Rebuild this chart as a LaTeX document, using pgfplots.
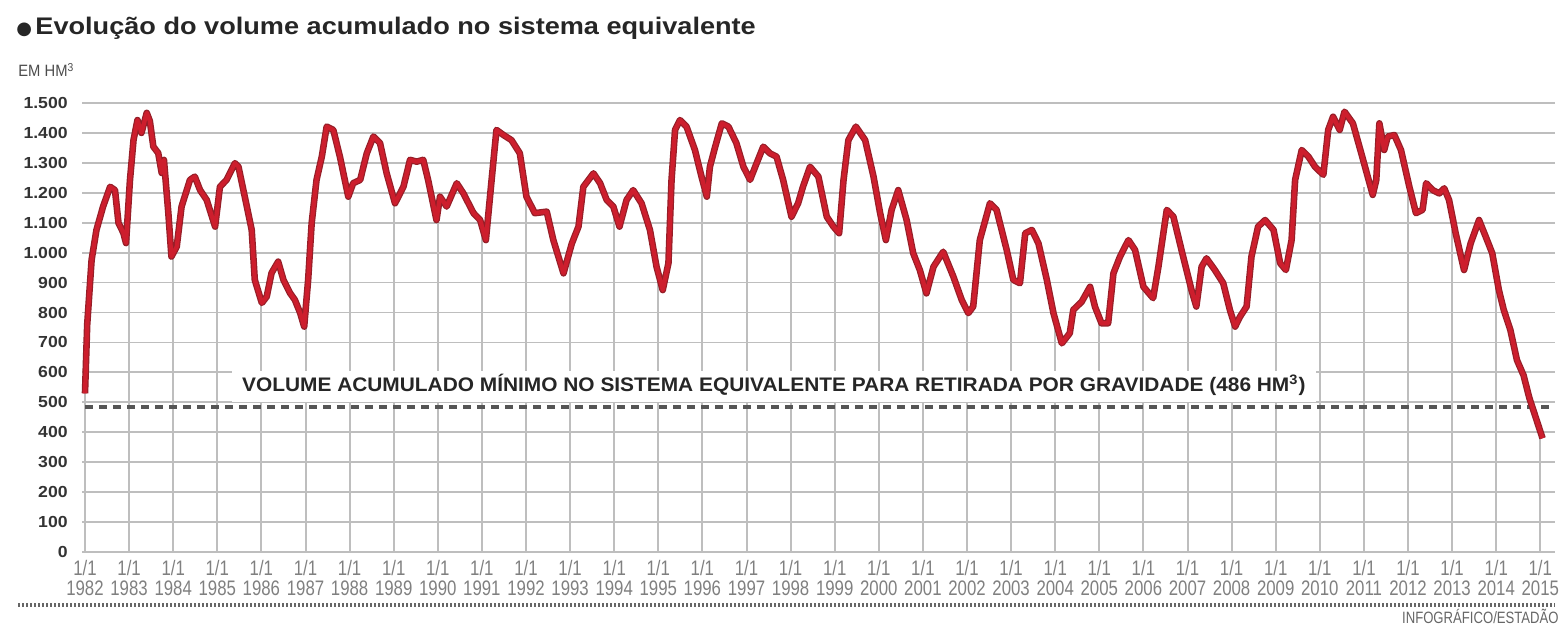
\documentclass[border=0pt]{standalone}
\usepackage{pgfplots}
\pgfplotsset{compat=1.18}
\usepackage{pgfplotstable}
\usepackage{fontspec}
\setmainfont{Liberation Sans}
\newfontfamily\cond{Liberation Sans}[FakeStretch=0.8]
\newfontfamily\condb{Liberation Sans}[FakeStretch=0.9]
\newfontfamily\titlef{Liberation Sans}[FakeStretch=1.13]
\newfontfamily\labf{Liberation Sans}[FakeStretch=1.065]
\newfontfamily\ylab{Liberation Sans}[FakeStretch=1.1]
\newfontfamily\sym{DejaVu Sans}
\definecolor{redline}{RGB}{205,30,45}
\definecolor{rededge}{RGB}{150,30,40}
\definecolor{gridc}{RGB}{190,190,190}

\pgfplotstableread{
x y
1982.00 530
1982.05 760
1982.15 976
1982.26 1076
1982.41 1154
1982.57 1220
1982.68 1209
1982.76 1099
1982.87 1066
1982.93 1032
1983.02 1243
1983.10 1376
1983.19 1443
1983.28 1400
1983.40 1467
1983.47 1440
1983.55 1354
1983.66 1333
1983.74 1266
1983.79 1310
1983.89 1132
1983.96 987
1984.08 1020
1984.19 1154
1984.38 1243
1984.49 1254
1984.61 1209
1984.76 1176
1984.95 1087
1985.06 1220
1985.21 1243
1985.40 1299
1985.48 1287
1985.67 1154
1985.78 1076
1985.85 909
1986.01 832
1986.12 853
1986.23 932
1986.38 970
1986.50 909
1986.65 865
1986.76 842
1986.88 798
1986.97 753
1987.06 909
1987.14 1099
1987.25 1243
1987.37 1321
1987.48 1421
1987.63 1410
1987.78 1321
1987.97 1187
1988.08 1232
1988.24 1243
1988.39 1332
1988.54 1388
1988.69 1366
1988.84 1265
1989.03 1165
1989.22 1220
1989.37 1310
1989.52 1304
1989.67 1310
1989.78 1243
1989.97 1109
1990.05 1187
1990.20 1154
1990.43 1232
1990.58 1198
1990.81 1132
1990.96 1109
1991.09 1042
1991.22 1243
1991.33 1410
1991.49 1393
1991.67 1376
1991.86 1332
1992.01 1187
1992.20 1132
1992.47 1137
1992.62 1042
1992.85 931
1993.04 1031
1993.19 1087
1993.30 1220
1993.53 1265
1993.68 1232
1993.83 1176
1993.98 1154
1994.12 1087
1994.28 1176
1994.43 1209
1994.62 1165
1994.81 1076
1994.96 953
1995.10 875
1995.23 965
1995.30 1243
1995.38 1410
1995.49 1443
1995.64 1421
1995.83 1343
1995.98 1254
1996.10 1187
1996.17 1287
1996.29 1354
1996.44 1432
1996.59 1421
1996.77 1366
1996.93 1287
1997.08 1243
1997.23 1299
1997.38 1354
1997.53 1332
1997.68 1321
1997.83 1243
1998.02 1120
1998.17 1165
1998.28 1220
1998.44 1287
1998.63 1254
1998.82 1120
1998.97 1087
1999.10 1065
1999.20 1243
1999.31 1376
1999.48 1421
1999.69 1376
1999.88 1254
2000.03 1132
2000.16 1042
2000.29 1143
2000.44 1209
2000.63 1109
2000.78 998
2000.93 942
2001.08 864
2001.24 953
2001.46 1003
2001.69 920
2001.88 842
2002.03 798
2002.14 820
2002.29 1042
2002.52 1165
2002.67 1143
2002.90 1009
2003.05 909
2003.20 898
2003.32 1065
2003.47 1076
2003.62 1031
2003.81 909
2003.96 798
2004.15 697
2004.33 731
2004.41 809
2004.60 836
2004.79 886
2004.90 820
2005.05 764
2005.20 764
2005.32 931
2005.47 987
2005.66 1042
2005.81 1009
2006.00 886
2006.22 848
2006.34 953
2006.53 1143
2006.68 1120
2006.90 987
2007.09 875
2007.20 820
2007.32 953
2007.43 981
2007.62 942
2007.81 898
2007.96 809
2008.08 753
2008.19 786
2008.34 820
2008.45 987
2008.60 1087
2008.76 1109
2008.95 1076
2009.10 965
2009.23 942
2009.36 1042
2009.44 1243
2009.59 1343
2009.74 1321
2009.89 1287
2010.08 1260
2010.19 1410
2010.30 1454
2010.45 1410
2010.56 1471
2010.75 1432
2010.94 1332
2011.20 1193
2011.28 1243
2011.35 1432
2011.46 1343
2011.54 1388
2011.69 1393
2011.84 1343
2012.03 1220
2012.18 1132
2012.33 1143
2012.41 1232
2012.56 1209
2012.71 1198
2012.82 1215
2012.93 1176
2013.08 1065
2013.27 942
2013.42 1031
2013.61 1109
2013.76 1054
2013.91 998
2014.06 875
2014.17 809
2014.32 742
2014.47 641
2014.62 590
2014.75 515
2015.05 380
}\volume

\pgfplotstableread{
x y
1982 530
1983 1200
1984 1000
1985 1100
1986 835
1987 830
1988 1200
1989 1170
1990 1160
1991 1070
1992 1190
1993 1000
1994 1140
1995 900
1996 1210
1997 1265
1998 1125
1999 1080
2000 1150
2001 900
2002 805
2003 930
2004 770
2005 768
2006 886
2007 890
2008 780
2009 1000
2010 1270
2011 1220
2012 1225
2013 1080
2014 900
2015 380
}\jan

\begin{document}
\begin{tikzpicture}
\path[use as bounding box] (0pt,0pt) rectangle (780.5pt,312pt);
\node[anchor=west, inner sep=0pt, text=black!85] at (8pt,298pt)
  {{\sym\fontsize{9}{9}\selectfont ●}\,{\titlef\bfseries\fontsize{12}{12}\selectfont Evolução do volume acumulado no sistema equivalente}};
\node[anchor=west, inner sep=0pt, text=black!70] at (9pt,277pt)
  {\condb\fontsize{8.2}{8.2}\selectfont EM HM\textsuperscript{3}};
\begin{axis}[
  at={(41pt,36pt)}, anchor=south west,
  scale only axis, width=736.5pt, height=224.5pt,
  xmin=1981.932, xmax=2015.333, ymin=0, ymax=1500,
  axis line style={draw=none},
  clip=false,
  xtick={1982,1983,...,2015},
  xticklabels={{1/1\\1982},{1/1\\1983},{1/1\\1984},{1/1\\1985},{1/1\\1986},{1/1\\1987},{1/1\\1988},{1/1\\1989},{1/1\\1990},{1/1\\1991},{1/1\\1992},{1/1\\1993},{1/1\\1994},{1/1\\1995},{1/1\\1996},{1/1\\1997},{1/1\\1998},{1/1\\1999},{1/1\\2000},{1/1\\2001},{1/1\\2002},{1/1\\2003},{1/1\\2004},{1/1\\2005},{1/1\\2006},{1/1\\2007},{1/1\\2008},{1/1\\2009},{1/1\\2010},{1/1\\2011},{1/1\\2012},{1/1\\2013},{1/1\\2014},{1/1\\2015}},
  ytick={0,100,...,1500},
  major tick length=0pt,
  ymajorgrids, grid style={gridc, line width=0.9pt},
  yticklabel style={font=\ylab\bfseries\fontsize{8}{8}\selectfont, text=black!80, anchor=east, inner sep=0pt, xshift=-7pt},
  xticklabel style={font=\cond\fontsize{10.5}{10}\selectfont, text=black!50, align=center, anchor=north, inner sep=0pt, yshift=-4pt},
  /pgf/number format/1000 sep={.},
  /pgf/number format/assume math mode=true,
]
\addplot[ycomb, no marks, gridc, line width=1pt] table[x=x,y=y] {\jan};
\addplot[no marks, draw={rgb,255:red,85;green,85;blue,85}, line width=2pt, dash pattern=on 4pt off 3pt] coordinates {(1982,486) (2015.2,486)};
\addplot[no marks, rededge, line width=3.3pt, line join=round] table[x=x,y=y] {\volume};
\addplot[no marks, redline, line width=2.1pt, line join=round] table[x=x,y=y] {\volume};
\node[fill=white, inner xsep=5pt, inner ysep=3.5pt, text height=7pt, text depth=1.5pt, text=black!85] at (axis cs:1997.62,553)
  {\labf\bfseries\fontsize{9.8}{9.8}\selectfont VOLUME ACUMULADO MÍNIMO NO SISTEMA EQUIVALENTE PARA RETIRADA POR GRAVIDADE (486 HM\textsuperscript{3})};
\end{axis}
\draw[black!60, line width=2pt, dash pattern=on 0.8pt off 1.2pt] (9pt,9.5pt) -- (777.5pt,9.5pt);
\node[anchor=east, inner sep=0pt, text=black!60] at (779.5pt,4pt)
  {\cond\fontsize{8.2}{8.2}\selectfont INFOGRÁFICO/ESTADÃO};
\end{tikzpicture}
\end{document}
